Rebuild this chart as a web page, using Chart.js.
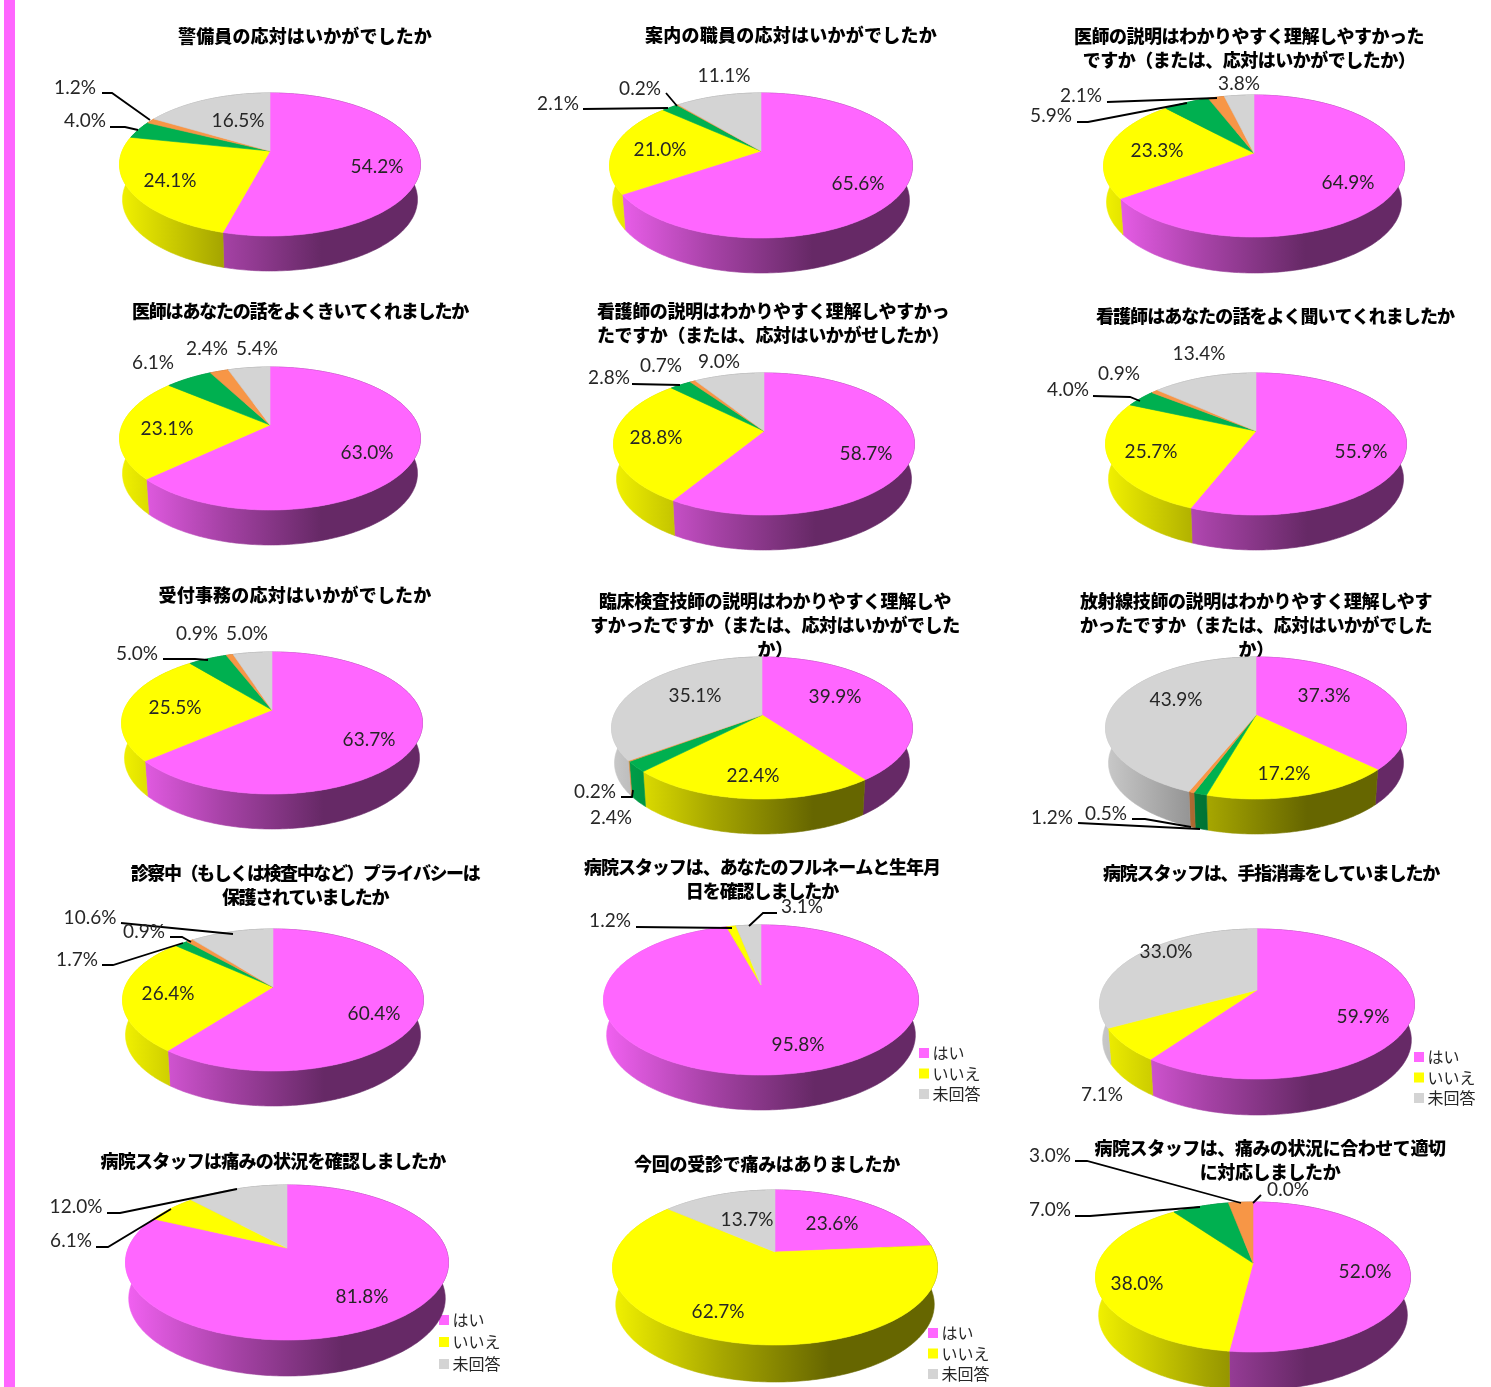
<!DOCTYPE html>
<html lang="ja">
<head>
<meta charset="utf-8">
<title>アンケート結果</title>
<script src="https://cdn.jsdelivr.net/npm/chart.js@4"></script>
<style>
    html, body { margin: 0; padding: 0; background: #fff; }
    body { position: relative; width: 1491px; height: 1387px; overflow: hidden; }
    #strip { position: absolute; left: 4px; top: 0; width: 11px; height: 1387px; background: #ff66ff; }
    canvas { position: absolute; }
</style>
</head>
<body>
<div id="strip"></div>
<script>
// Categories
const answers5 = ['回答1', '回答2', '回答3', '回答4', '未回答'];
const answers3 = ['はい', 'いいえ', '未回答'];

// Chart titles, one entry per line
const titles = [
    ['警備員の応対はいかがでしたか'],
    ['案内の職員の応対はいかがでしたか'],
    ['医師の説明はわかりやすく理解しやすかった', 'ですか（または、応対はいかがでしたか）'],
    ['医師はあなたの話をよくきいてくれましたか'],
    ['看護師の説明はわかりやすく理解しやすかっ', 'たですか（または、応対はいかがせしたか）'],
    ['看護師はあなたの話をよく聞いてくれましたか'],
    ['受付事務の応対はいかがでしたか'],
    ['臨床検査技師の説明はわかりやすく理解しや', 'すかったですか（または、応対はいかがでした', 'か）'],
    ['放射線技師の説明はわかりやすく理解しやす', 'かったですか（または、応対はいかがでした', 'か）'],
    ['診察中（もしくは検査中など）プライバシーは', '保護されていましたか'],
    ['病院スタッフは、あなたのフルネームと生年月', '日を確認しましたか'],
    ['病院スタッフは、手指消毒をしていましたか'],
    ['病院スタッフは痛みの状況を確認しましたか'],
    ['今回の受診で痛みはありましたか'],
    ['病院スタッフは、痛みの状況に合わせて適切', 'に対応しましたか']
];

// Series values (%)
const guard = [54.2, 24.1, 4.0, 1.2, 16.5];
const guide = [65.6, 21.0, 2.1, 0.2, 11.1];
const doctorExplain = [64.9, 23.3, 5.9, 2.1, 3.8];
const doctorListen = [63.0, 23.1, 6.1, 2.4, 5.4];
const nurseExplain = [58.7, 28.8, 2.8, 0.7, 9.0];
const nurseListen = [55.9, 25.7, 4.0, 0.9, 13.4];
const reception = [63.7, 25.5, 5.0, 0.9, 5.0];
const labTech = [39.9, 22.4, 2.4, 0.2, 35.1];
const radiology = [37.3, 17.2, 1.2, 0.5, 43.9];
const privacy = [60.4, 26.4, 1.7, 0.9, 10.6];
const fullName = [95.8, 1.2, 3.1];
const handWash = [59.9, 7.1, 33.0];
const painCheck = [81.8, 6.1, 12.0];
const painNow = [23.6, 62.7, 13.7];
const painCare = [52.0, 38.0, 7.0, 3.0, 0.0];

const allValues = [guard, guide, doctorExplain, doctorListen, nurseExplain, nurseListen, reception,
    labTech, radiology, privacy, fullName, handWash, painCheck, painNow, painCare];

// Colours
const colors5 = ['#ff66ff', '#ffff00', '#00b050', '#f79646', '#d4d4d4'];
const colors3 = ['#ff66ff', '#ffff00', '#d4d4d4'];

// Layout (page pixels). Pie: centre x, top edge, apex y, front edge, x radius, bottom of the side
const pieBoxes = [
    [270, 93, 151, 236, 150.5, 271], [761, 93, 151, 238, 151.5, 273], [1254, 95, 153, 237, 150.5, 273],
    [270, 367, 425, 510, 150.5, 545], [764, 373, 431, 515, 150.5, 550], [1256, 373, 431, 515, 150.5, 550],
    [272, 652, 710, 794, 150.5, 829], [762, 657, 715, 799, 150.5, 834], [1256, 657, 715, 799, 150.5, 834],
    [273, 929, 987, 1071, 150.5, 1106], [761, 925, 985, 1075, 157.5, 1110], [1257, 929, 990, 1079, 157.5, 1115],
    [287, 1185, 1248, 1340, 161.5, 1376], [775, 1190, 1252, 1345, 162.5, 1382], [1253, 1202, 1263, 1352, 157.5, 1390]
];
// Title centre x, first line centre y
const titlePos = [
    [305, 36], [791, 35], [1249, 36], [300, 311], [773, 311], [1275, 316], [295, 595], [775, 601],
    [1256, 601], [305, 873], [762, 867], [1271, 873], [273, 1161], [767, 1164], [1270, 1148]
];
// Title letter spacing in px, the original font is proportional
const titleSpacing = [0.14, 0.25, -0.5, -1.2, -0.4, -0.95, 0.2, -0.4, -0.4, -1.4, -1.05, -1.2, -0.75, -0.27, -0.45];
// Data label centres, one per slice
const labelPos = [
    [[377, 167], [170, 181], [85, 121], [75, 88], [238, 121]],
    [[858, 184], [660, 150], [558, 104], [640, 89], [724, 76]],
    [[1348, 183], [1157, 151], [1051, 116], [1081, 96], [1239, 84]],
    [[367, 453], [167, 429], [153, 363], [207, 349], [257, 349]],
    [[866, 454], [656, 438], [609, 378], [661, 366], [719, 362]],
    [[1361, 452], [1151, 452], [1068, 390], [1119, 374], [1199, 354]],
    [[369, 740], [175, 708], [137, 654], [197, 634], [247, 634]],
    [[835, 697], [753, 776], [611, 818], [595, 792], [695, 696]],
    [[1324, 696], [1284, 774], [1052, 818], [1106, 814], [1176, 700]],
    [[374, 1014], [168, 994], [77, 960], [144, 932], [90, 918]],
    [[798, 1045], [610, 921], [802, 907]],
    [[1363, 1017], [1102, 1095], [1166, 952]],
    [[362, 1297], [71, 1241], [76, 1207]],
    [[832, 1224], [718, 1312], [747, 1220]],
    [[1365, 1272], [1137, 1284], [1050, 1210], [1050, 1156], [1288, 1190]]
];
// Leader lines
const leaders = [
    [[[102, 93], [112, 93], [150, 120]], [[110, 127], [125, 127], [138, 130]]],
    [[[583, 109], [668, 108]], [[666, 93], [677, 106]]],
    [[[1107, 102], [1217, 98]], [[1077, 122], [1088, 122], [1187, 103]]],
    [],
    [[[632, 384], [680, 385]]],
    [[[1093, 396], [1130, 397], [1140, 401]]],
    [[[163, 659], [195, 659], [208, 660]]],
    [[[621, 797], [632, 797], [633, 790]]],
    [[[1078, 823], [1200, 829]], [[1132, 819], [1145, 819], [1191, 827]]],
    [[[121, 923], [233, 934]], [[170, 937], [182, 937], [191, 942]], [[102, 965], [113, 965], [183, 943]]],
    [[[636, 927], [732, 928]], [[749, 926], [763, 913], [777, 913]]],
    [],
    [[[107, 1213], [120, 1213], [237, 1189]], [[96, 1247], [108, 1247], [171, 1209]]],
    [],
    [[[1075, 1161], [1087, 1161], [1241, 1203]], [[1075, 1216], [1090, 1216], [1200, 1207]], [[1253, 1203], [1261, 1195]]]
];
// Legend box x, first row centre y, row gap (only the charts that show one)
const legendPos = { 10: [919, 1053, 20.5], 11: [1414, 1057, 20.5], 12: [439, 1320, 22], 13: [928, 1333, 20.5] };

const CANVAS_W = 640;
const CANVAS_H = 300;
const LEGEND_FONT = 16;
const BOTTOM_RIM = 0.98;
const sideStops = [[0, 0.95], [0.34, 0.65], [0.67, 0.4], [1, 0.4]];

function shade(hex, k) {
    const n = parseInt(hex.slice(1), 16);
    const r = Math.round((n >> 16 & 255) * k);
    const g = Math.round((n >> 8 & 255) * k);
    const b = Math.round((n & 255) * k);
    return `rgb(${r},${g},${b})`;
}

// Draws the pie with Excel style perspective and side wall, using the angles of the library's arcs
const pie3d = {
    id: 'pie3d',
    afterLayout(chart, args, opts) {
        const ctx = chart.ctx;
        const block = chart.titleBlock;
        const drawTitle = block.draw.bind(block);
        block.draw = () => {
            ctx.letterSpacing = opts.spacing + 'px';
            drawTitle();
            ctx.letterSpacing = '0px';
        };

        const lg = opts.legend;
        if (!lg) return;
        const pad = lg[2] - LEGEND_FONT;
        const box = chart.legend;
        const w = box.right - box.left;
        const h = box.bottom - box.top;
        // the square is centred on a 1px wide box, so the text sits close to it
        box.left = lg[0] + 4.5 - opts.left - pad;
        box.top = lg[1] - opts.top - LEGEND_FONT / 2 - pad;
        box.right = box.left + w;
        box.bottom = box.top + h;
    },
    beforeDatasetsDraw(chart, args, opts) {
        const ctx = chart.ctx;
        const [cx, top, apex, bottom, rx, sideBottom] = opts.box;
        const up = apex - top;
        const down = bottom - apex;
        const p = (down - up) / (down + up);
        const q = up * (1 + p);
        const s = rx * Math.sqrt(1 - p * p);
        const depth = sideBottom - bottom;
        const project = a => {
            const w = 1 - p * Math.sin(a);
            return [cx + s * Math.cos(a) / w, apex + q * Math.sin(a) / w];
        };
        const rim = arc => {
            const steps = Math.max(2, Math.ceil((arc.endAngle - arc.startAngle) * 60));
            const pts = [];
            for (let i = 0; i <= steps; i++) {
                pts.push(project(arc.startAngle + (arc.endAngle - arc.startAngle) * i / steps));
            }
            return pts;
        };
        const arcs = chart.getDatasetMeta(0).data.filter(a => a.endAngle - a.startAngle > 0);

        ctx.save();
        ctx.translate(-opts.left, -opts.top);

        // side wall first, the top faces cover the back part of it
        arcs.forEach(arc => {
            const hex = arc.options.backgroundColor;
            const grad = ctx.createLinearGradient(cx - rx, 0, cx + rx, 0);
            sideStops.forEach(st => grad.addColorStop(st[0], shade(hex, st[1])));
            const pts = rim(arc);
            ctx.beginPath();
            pts.forEach((pt, i) => i ? ctx.lineTo(pt[0], pt[1]) : ctx.moveTo(pt[0], pt[1]));
            pts.slice().reverse().forEach(pt => ctx.lineTo(cx + (pt[0] - cx) * BOTTOM_RIM, pt[1] + depth));
            ctx.closePath();
            ctx.fillStyle = grad;
            ctx.strokeStyle = grad;
            ctx.lineWidth = 0.6;
            ctx.fill();
            ctx.stroke();
        });

        arcs.forEach(arc => {
            ctx.beginPath();
            ctx.moveTo(cx, apex);
            rim(arc).forEach(pt => ctx.lineTo(pt[0], pt[1]));
            ctx.closePath();
            ctx.fillStyle = arc.options.backgroundColor;
            ctx.strokeStyle = arc.options.backgroundColor;
            ctx.lineWidth = 0.6;
            ctx.fill();
            ctx.stroke();
        });

        // leader lines
        ctx.strokeStyle = '#000';
        ctx.lineWidth = 1.8;
        opts.leaders.forEach(line => {
            ctx.beginPath();
            line.forEach((pt, i) => i ? ctx.lineTo(pt[0], pt[1]) : ctx.moveTo(pt[0], pt[1]));
            ctx.stroke();
        });

        // data labels
        ctx.font = '19px Lato, "Liberation Sans", sans-serif';
        ctx.fillStyle = '#262626';
        ctx.textAlign = 'center';
        ctx.textBaseline = 'middle';
        chart.data.datasets[0].data.forEach((v, i) => {
            const pos = opts.labels[i];
            ctx.fillText(v.toFixed(1) + '%', pos[0], pos[1]);
        });

        ctx.restore();
        return false;
    }
};

allValues.forEach((values, i) => {
    const five = values.length === 5;
    const left = titlePos[i][0] - CANVAS_W / 2;
    const top = titlePos[i][1] - 12;
    const legend = legendPos[i];

    const canvas = document.createElement('canvas');
    canvas.width = CANVAS_W;
    canvas.height = CANVAS_H;
    canvas.style.left = left + 'px';
    canvas.style.top = top + 'px';
    canvas.style.width = CANVAS_W + 'px';
    canvas.style.height = CANVAS_H + 'px';
    document.body.appendChild(canvas);

    new Chart(canvas.getContext('2d'), {
        type: 'pie',
        data: {
            labels: five ? answers5 : answers3,
            datasets: [{
                data: values,
                backgroundColor: five ? colors5 : colors3,
                borderWidth: 0
            }]
        },
        options: {
            responsive: false,
            devicePixelRatio: 1,
            animation: false,
            events: [],
            plugins: {
                title: {
                    display: true,
                    text: titles[i],
                    color: '#000',
                    padding: 0,
                    font: { family: '"Noto Sans CJK JP"', size: 18, weight: 900, lineHeight: 1.333 }
                },
                legend: {
                    display: !!legend,
                    position: 'right',
                    align: 'start',
                    labels: {
                        usePointStyle: true,
                        pointStyle: 'rect',
                        boxWidth: 1,
                        boxHeight: 10,
                        padding: legend ? legend[2] - LEGEND_FONT : 5,
                        color: '#262626',
                        font: { family: '"Noto Sans CJK JP"', size: LEGEND_FONT }
                    }
                },
                tooltip: { enabled: false },
                pie3d: {
                    left: left,
                    top: top,
                    box: pieBoxes[i],
                    labels: labelPos[i],
                    leaders: leaders[i],
                    spacing: titleSpacing[i],
                    legend: legend || null
                }
            }
        },
        plugins: [pie3d]
    });
});
</script>
</body>
</html>
